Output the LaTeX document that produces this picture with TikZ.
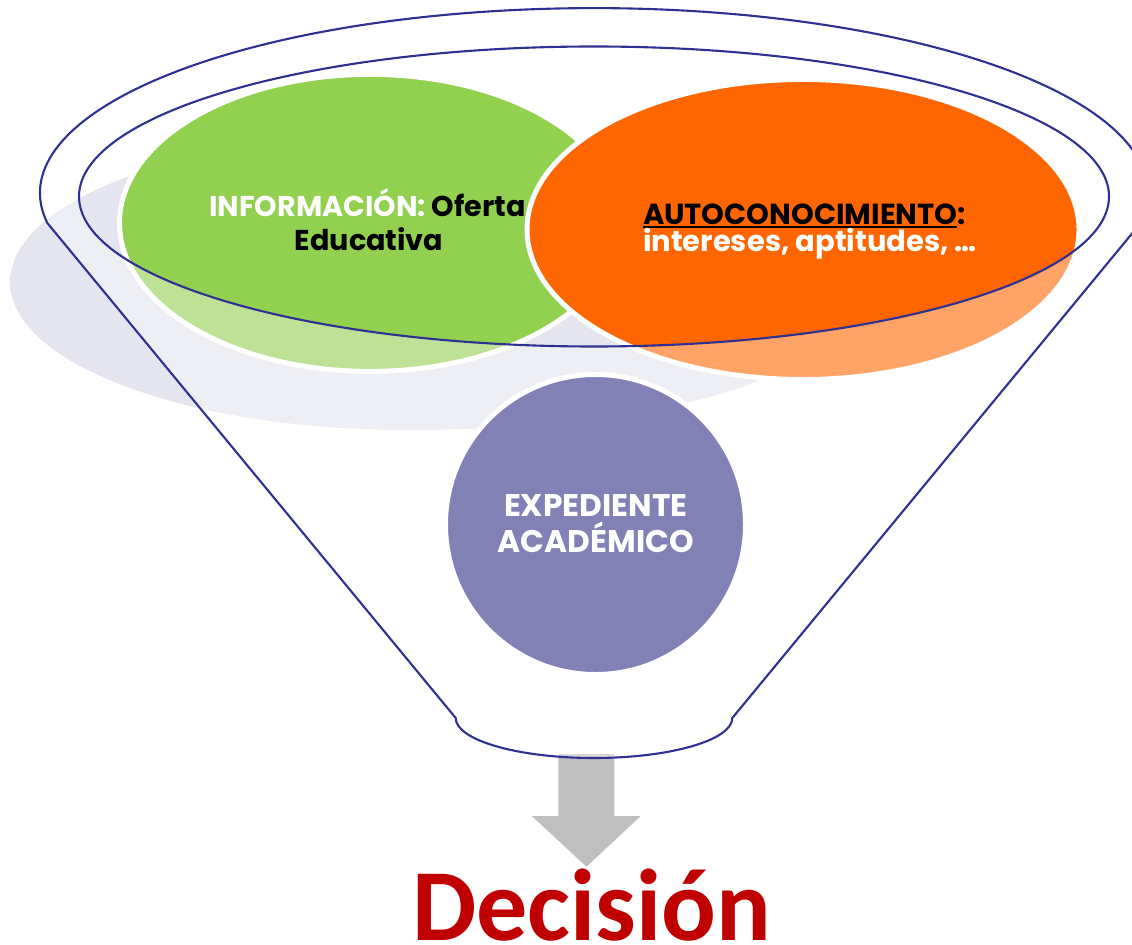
\documentclass[tikz,border=0pt]{standalone}
\usepackage{fontspec}
\setmainfont{Poppins}
\newfontfamily\calib{Carlito}
\definecolor{gshadow}{RGB}{228,229,238}
\definecolor{igreen}{RGB}{146,208,80}
\definecolor{iorange}{RGB}{255,102,0}
\definecolor{ipurple}{RGB}{129,129,181}
\definecolor{fblue}{RGB}{46,49,146}
\definecolor{agray}{RGB}{191,191,191}
\definecolor{dred}{RGB}{192,0,0}
\newcommand\ulbar[1]{\setbox0=\hbox{#1}\rlap{\rule[-1.7pt]{\wd0}{1.1pt}}\box0}
\begin{document}
\begin{tikzpicture}[x=0.02cm,y=0.02cm,
  txt/.style={inner sep=0pt, outer sep=0pt},
  blob/.style={draw=white, line width=2.83pt},
  funnel/.style={draw=fblue, line width=1.2pt, fill=white, fill opacity=0.4, even odd rule}]
\useasboundingbox (0,0) rectangle (1132,944);
% shadow
\fill[gshadow] (406.6,514) arc[start angle=-90, end angle=-270, x radius=396.6, y radius=148]
  .. controls (620,790) and (850,760) .. (850,650)
  .. controls (850,580) and (700,514) .. (406.6,514) -- cycle;
% ellipses
\path[blob, fill=igreen] (370,721.1) ellipse [x radius=250.5, y radius=148.5];
\path[blob, fill=iorange] (803,714.5) ellipse [x radius=276, y radius=150];
% arrow
\fill[agray] (558.3,190) -- (614.3,190) -- (614.3,128) -- (640.7,128) -- (586.5,77.3) -- (531.7,128) -- (558.3,128) -- cycle;
% funnel
\path[funnel] (47.3,721) arc[start angle=189.3, end angle=-9.3, x radius=554, y radius=185]
  -- (732.3,226) arc[start angle=0, end angle=-180, x radius=138.3, y radius=40] -- cycle
  (594,747.5) ellipse [x radius=515, y radius=150];
% purple circle
\path[blob, fill=ipurple] (595.5,419.5) circle [radius=150];
% texts
\node[txt, anchor=base, font=\bfseries\fontsize{16.3}{18}\selectfont] (inf1) at (367.5,727.3) {\textcolor{white}{INFORMACIÓN:} Oferta};
\node[txt, anchor=base, font=\bfseries\fontsize{16.3}{18}\selectfont] (inf2) at (369,693.3) {Educativa};
\node[txt, anchor=base west, font=\bfseries\fontsize{16.5}{18}\selectfont] (auto1) at (643,719) {\ulbar{AUTOCONOCIMIENTO}:};
\node[txt, anchor=base west, text=white, font=\bfseries\fontsize{16.5}{18}\selectfont] (auto2) at (643,692.3) {intereses, aptitudes, \ldots};
\node[txt, anchor=base, text=white, font=\bfseries\fontsize{17.8}{20}\selectfont] (exp1) at (595.8,427.3) {EXPEDIENTE};
\node[txt, anchor=base, text=white, font=\bfseries\fontsize{17.8}{20}\selectfont] (exp2) at (595.8,391.3) {ACADÉMICO};
\node[txt, anchor=base, text depth=0pt, text=dred, font=\calib\bfseries\fontsize{58.1}{60}\selectfont] (dec) at (591.7,4) {Decisión};
\end{tikzpicture}
\end{document}
